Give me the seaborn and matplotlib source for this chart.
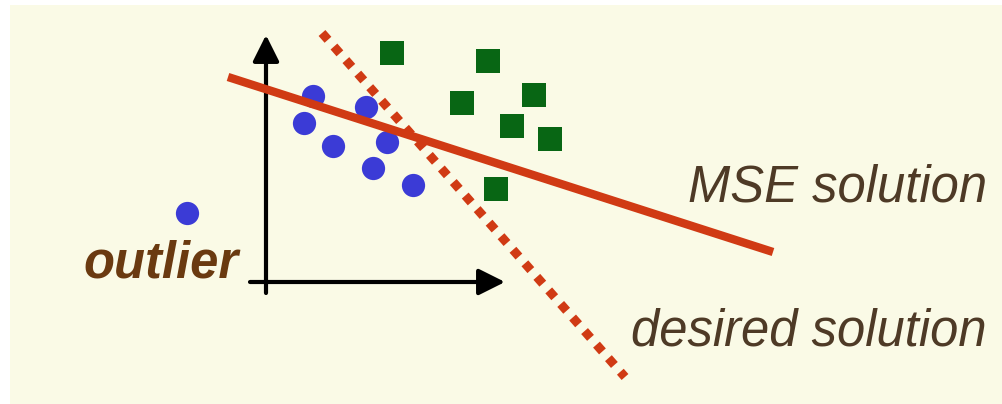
import numpy as np
import pandas as pd
import seaborn as sns
import matplotlib
matplotlib.use("Agg")
import matplotlib.pyplot as plt

# ---- data (pixel coordinates, y grows downward) ----
blue_x = [313, 366, 304, 333, 387, 373, 413, 187]
blue_y = [96, 107, 123, 146, 142, 168, 185, 213]

green_x = [392, 488, 462, 534, 512, 550, 496]
green_y = [53, 61, 103, 95, 126, 139, 189]

mse_x = [228, 773]
mse_y = [77, 252]

desired_x = [322, 625]
desired_y = [33, 377]

labels = ["MSE solution", "desired solution", "outlier"]

# ---- styling ----
sns.set_theme(style="white")
plt.rcParams['font.family'] = ['Liberation Sans', 'DejaVu Sans']

cream = '#fafae6'
red = '#d03a14'
blue = '#3b3bd6'
green = '#086614'
brown = '#4e3a26'
outlier_brown = '#6a3a10'

fig = plt.figure(figsize=(10.03, 4.04), dpi=100, facecolor='white')
ax = fig.add_axes([10 / 1003, 0, 993 / 1003, 399 / 404])
ax.set_facecolor(cream)
ax.set_xlim(10, 1003)
ax.set_ylim(404, 5)
ax.set_axis_off()
ax.add_patch(plt.Rectangle((10, 5), 993, 399, facecolor=cream, edgecolor='none', zorder=0))

# axes arrows
ax.annotate("", xy=(266, 35), xytext=(266, 293),
            arrowprops=dict(arrowstyle='-|>', lw=3, color='black',
                            mutation_scale=40, shrinkA=0, shrinkB=0), zorder=2)
ax.annotate("", xy=(505, 282), xytext=(250, 282),
            arrowprops=dict(arrowstyle='-|>', lw=3, color='black',
                            mutation_scale=40, shrinkA=0, shrinkB=0), zorder=2)

# points
sns.scatterplot(x=blue_x, y=blue_y, color=blue, marker='o', s=280,
                linewidth=0, ax=ax, zorder=3)
sns.scatterplot(x=green_x, y=green_y, color=green, marker='s', s=280,
                linewidth=0, ax=ax, zorder=3)

# lines
sns.lineplot(x=desired_x, y=desired_y, color=red, lw=6.5,
             linestyle=(0, (1, 1)), dash_capstyle='butt', ax=ax, zorder=4)
sns.lineplot(x=mse_x, y=mse_y, color=red, lw=6, solid_capstyle='butt',
             ax=ax, zorder=5)

# labels
ax.text(987, 202, labels[0], fontsize=36.5, style='italic', color=brown,
        ha='right', va='baseline')
ax.text(987, 345, labels[1], fontsize=36.5, style='italic', color=brown,
        ha='right', va='baseline')
ax.text(83, 277, labels[2], fontsize=36.5, style='italic', weight='bold',
        color=outlier_brown, ha='left', va='baseline')

fig.savefig("out.png", dpi=100, facecolor='white')
